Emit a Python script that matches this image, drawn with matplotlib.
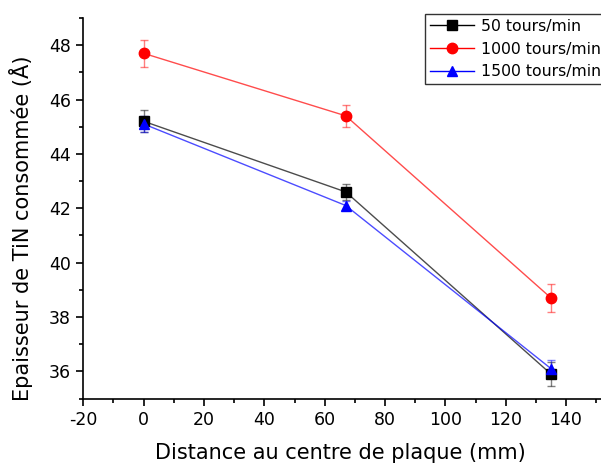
import matplotlib
matplotlib.use("Agg")
import matplotlib.pyplot as plt
from matplotlib.ticker import MultipleLocator

plt.rcParams['font.family'] = ['DejaVu Sans']
plt.rcParams['axes.unicode_minus'] = False

x = [0, 67, 135]
s50 = [45.2, 42.6, 35.9]
e50 = [0.4, 0.3, 0.45]
s1000 = [47.7, 45.4, 38.7]
e1000 = [0.5, 0.4, 0.5]
s1500 = [45.1, 42.1, 36.1]
e1500 = [0.3, 0.15, 0.3]
labels = ['50 tours/min', '1000 tours/min', '1500 tours/min']
xticks = [-20, 0, 20, 40, 60, 80, 100, 120, 140]
yticks = [36, 38, 40, 42, 44, 46, 48]

W, H = 601, 466
fig = plt.figure(figsize=(W/100, H/100), dpi=100)
ax = fig.add_axes([83.3/W, (H-398.5)/H, (611.3-83.3)/W, (398.5-18)/H])

series = [(s50, e50, 'black', 's', 6.5, labels[0]),
          (s1000, e1000, 'red', 'o', 7.5, labels[1]),
          (s1500, e1500, 'blue', '^', 7.5, labels[2])]
handles = []
for y, e, c, m, ms, lab in series:
    ax.errorbar(x, y, yerr=e, fmt='none', ecolor=c, alpha=0.5, elinewidth=1,
                capsize=3.2, capthick=1, zorder=2)
    ax.plot(x, y, color=c, lw=1, alpha=0.7, zorder=3)
    ax.plot(x, y, ls='none', marker=m, color=c, ms=ms, zorder=4)
    h, = ax.plot([], [], color=c, lw=1, marker=m, ms=ms, label=lab)
    handles.append(h)

ax.set_xlim(-20, 155)
ax.set_ylim(35, 49)
ax.set_xticks(xticks)
ax.set_yticks(yticks)
ax.xaxis.set_minor_locator(MultipleLocator(10))
ax.yaxis.set_minor_locator(MultipleLocator(1))
ax.spines['top'].set_visible(False)
ax.spines['right'].set_visible(False)
for sp in ('left', 'bottom'):
    ax.spines[sp].set_linewidth(1.2)
ax.tick_params(which='major', direction='out', length=5, width=1.2, labelsize=12.5, pad=4)
ax.tick_params(which='minor', direction='out', length=3, width=1.2)

ax.set_xlabel('Distance au centre de plaque (mm)', fontsize=15)
ax.set_ylabel('Epaisseur de TiN consommée (Å)', fontsize=15)
ax.xaxis.set_label_coords(0.486, -0.118)
ax.yaxis.set_label_coords(-0.095, 0.448)

leg = fig.legend(handles=handles, loc='upper left', bbox_to_anchor=(425/W, 1 - 14/H),
                 fontsize=11.3, frameon=True, fancybox=False, edgecolor='#333333',
                 handlelength=2.8, borderaxespad=0, borderpad=0.3, labelspacing=0.5,
                 handletextpad=0.45, framealpha=1)
leg.get_frame().set_linewidth(1)
for lh in leg.get_lines():
    lh.set_alpha(None)

fig.savefig('out.png', dpi=100)
